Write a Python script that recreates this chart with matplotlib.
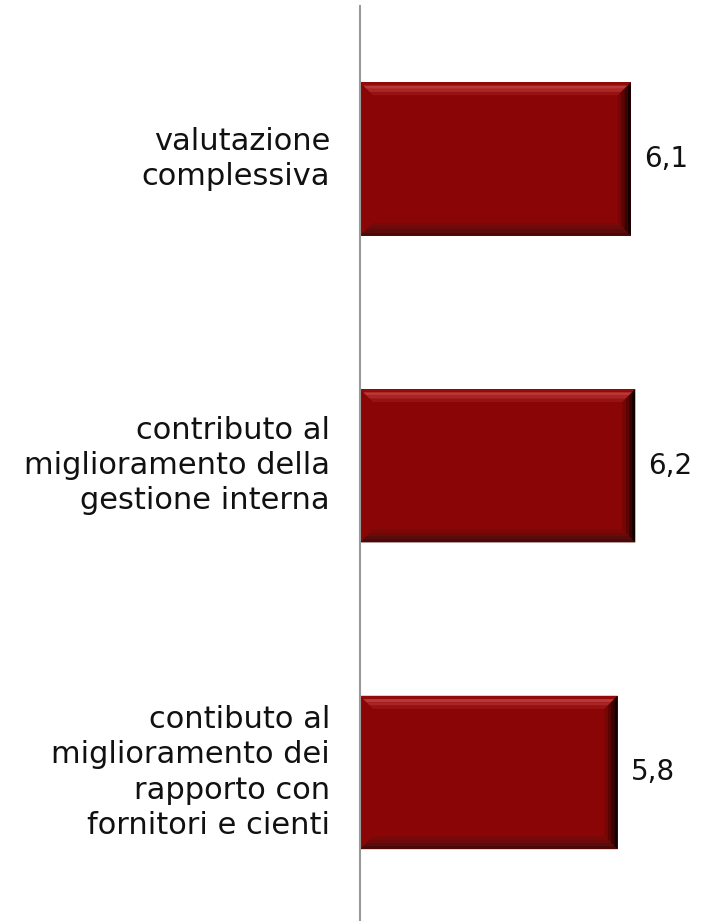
import numpy as np
import matplotlib.pyplot as plt
from matplotlib.patches import Polygon

# chart data
categories = [
    'valutazione\ncomplessiva',
    'contributo al\nmiglioramento della\ngestione interna',
    'contibuto al\nmiglioramento dei\nrapporto con\nfornitori e cienti',
]
values = [6.1, 6.2, 5.8]
value_labels = ['6,1', '6,2', '5,8']

W, H = 709, 921
DPI = 100
BAR_COLOR = '#8a0606'
FONT = 'DejaVu Sans'

# bevel colours, from the outer edge inwards
TOP_BANDS = ['#920a0a', '#b83838', '#aa2626', '#971212']
BOTTOM_BANDS = ['#4a0808', '#5a0c0c', '#6a0a0a', '#7a0808']
RIGHT_BANDS = ['#120000', '#360202', '#5a0404', '#760505']


def add_bevel(ax, x0, x1, y0, y1, bw_px):
    """Draw bevelled edges on a bar given in data coordinates (y inverted)."""
    # convert bevel size from pixels to data units
    inv = ax.transData.inverted()
    p0 = inv.transform((0, 0))
    p1 = inv.transform((bw_px, bw_px))
    dx = abs(p1[0] - p0[0])
    dy = abs(p1[1] - p0[1])

    n = len(TOP_BANDS)
    for k in range(n):
        a, b = k / n, (k + 1) / n
        # top edge (y0 is the top because the axis is inverted)
        top = [(x0 + a * dx, y0 + a * dy), (x1 - a * dx, y0 + a * dy),
               (x1 - b * dx, y0 + b * dy), (x0 + b * dx, y0 + b * dy)]
        bottom = [(x0 + a * dx, y1 - a * dy), (x1 - a * dx, y1 - a * dy),
                  (x1 - b * dx, y1 - b * dy), (x0 + b * dx, y1 - b * dy)]
        right = [(x1 - a * dx, y0 + a * dy), (x1 - a * dx, y1 - a * dy),
                 (x1 - b * dx, y1 - b * dy), (x1 - b * dx, y0 + b * dy)]
        ax.add_patch(Polygon(top, closed=True, color=TOP_BANDS[k], lw=0, zorder=3))
        ax.add_patch(Polygon(bottom, closed=True, color=BOTTOM_BANDS[k], lw=0, zorder=3))
        ax.add_patch(Polygon(right, closed=True, color=RIGHT_BANDS[k], lw=0, zorder=3))


fig = plt.figure(figsize=(W / DPI, H / DPI), dpi=DPI)
ax_h = 920.25
ax = fig.add_axes([360 / W, (H - 5.6 - ax_h) / H, 340 / W, ax_h / H])

y = np.arange(len(categories))
bar_h = 0.5
ax.barh(y, values, height=bar_h, color=BAR_COLOR, zorder=2)
ax.set_xlim(0, 340 / 44.4)
ax.set_ylim(len(categories) - 0.5, -0.5)

for i, v in enumerate(values):
    add_bevel(ax, 0, v, y[i] - bar_h / 2, y[i] + bar_h / 2, 13)
    ax.annotate(value_labels[i], xy=(v, y[i]), xycoords='data',
                xytext=(13, 0), textcoords='offset pixels',
                va='center', ha='left',
                fontsize=20, family=FONT, color='#111111')
    ax.annotate(categories[i], xy=(0, y[i]), xycoords='data',
                xytext=(-30, 0), textcoords='offset pixels',
                ha='right', va='center', multialignment='right',
                fontsize=22, family=FONT, color='#111111', linespacing=1.27)

for s in ['top', 'right', 'bottom']:
    ax.spines[s].set_visible(False)
ax.spines['left'].set_color('#999999')
ax.spines['left'].set_linewidth(1.5)
ax.spines['left'].set_zorder(4)
ax.set_xticks([])
ax.set_yticks([])

fig.savefig('out.png', dpi=DPI)
